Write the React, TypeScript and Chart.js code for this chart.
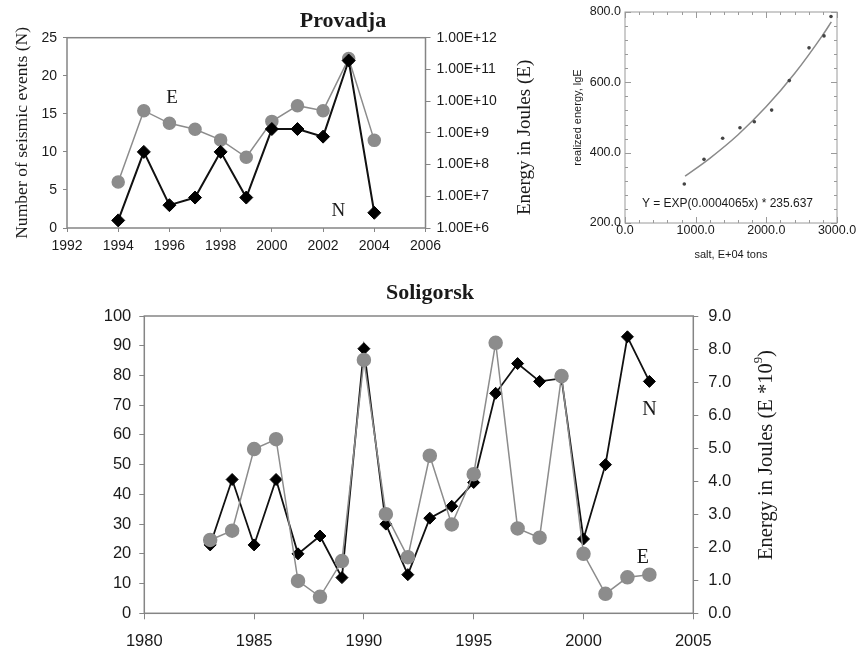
import React, { useEffect, useRef } from "react";
import { Chart, registerables } from "chart.js";

Chart.register(...registerables);

const SERIF = '"Liberation Serif", "Times New Roman", serif';
const SANS = '"Liberation Sans", Arial, sans-serif';
const INK = "#1a1a1a";
const AXIS = "#858585";
const GREY = "#8c8c8c";

// ---------- Provadja ----------
const provYears = [1994, 1995, 1996, 1997, 1998, 1999, 2000, 2001, 2002, 2003, 2004];
const provN = [1, 10, 3, 4, 10, 4, 13, 13, 12, 22, 2];
const provE = [2.8e7, 5.0e9, 2.0e9, 1.3e9, 6.0e8, 1.7e8, 2.3e9, 7.2e9, 5.0e9, 2.2e11, 5.8e8];
const provLogTicks = [1e6, 1e7, 1e8, 1e9, 1e10, 1e11, 1e12];
const provTags = [
  { text: "E", x: 1996.1, y: 17.1 },
  { text: "N", x: 2002.6, y: 2.2 },
];

// ---------- salt vs realized energy ----------
const saltTons = [839, 1118, 1382, 1627, 1830, 2075, 2325, 2604, 2816, 2915];
const saltEnergy = [311, 381, 441, 471, 488, 521, 605, 698, 732, 787];
const fitTons = [850, 1200, 1600, 2000, 2400, 2800, 2920];
const fitEnergy = [333, 384, 451, 531, 625, 735, 772];
const fitEquation = "Y = EXP(0.0004065x) * 235.637";

// ---------- Soligorsk ----------
const soliYears = [
  1983, 1984, 1985, 1986, 1987, 1988, 1989, 1990, 1991, 1992, 1993,
  1994, 1995, 1996, 1997, 1998, 1999, 2000, 2001, 2002, 2003,
];
const soliN = [23, 45, 23, 45, 20, 26, 12, 89, 30, 13, 32, 36, 44, 74, 84, 78, 79, 25, 50, 93, 78];
const soliE = [
  2.22, 2.5, 4.97, 5.27, 0.98, 0.5, 1.58, 7.67, 3.0, 1.7, 4.77,
  2.69, 4.21, 8.19, 2.57, 2.29, 7.18, 1.8, 0.59, 1.09, 1.17,
];
const soliTags = [
  { text: "N", x: 2003.0, y: 68.6 },
  { text: "E", x: 2002.7, y: 18.6 },
];

const xy = (xs: number[], ys: number[]) => xs.map((x, i) => ({ x, y: ys[i] }));

// ---------- plugins ----------
function headingPlugin(text: string, cx: number, baseline: number) {
  return {
    id: "heading",
    afterDraw(chart: any) {
      const ctx = chart.ctx;
      ctx.save();
      ctx.font = `bold 22px ${SERIF}`;
      ctx.fillStyle = INK;
      ctx.textAlign = "center";
      ctx.textBaseline = "alphabetic";
      ctx.fillText(text, cx, baseline);
      ctx.restore();
    },
  };
}

function framePlugin(color: string, width: number) {
  return {
    id: "frame",
    beforeDatasetsDraw(chart: any) {
      const { ctx, chartArea: a } = chart;
      ctx.save();
      ctx.strokeStyle = color;
      ctx.lineWidth = width;
      ctx.strokeRect(a.left, a.top, a.right - a.left, a.bottom - a.top);
      ctx.restore();
    },
  };
}

function tagPlugin(items: { text: string; x: number; y: number }[], font: string) {
  return {
    id: "tags",
    afterDatasetsDraw(chart: any) {
      const ctx = chart.ctx;
      const sx = chart.scales.x;
      const sy = chart.scales.y;
      ctx.save();
      ctx.font = font;
      ctx.fillStyle = INK;
      ctx.textAlign = "center";
      ctx.textBaseline = "middle";
      for (const t of items) ctx.fillText(t.text, sx.getPixelForValue(t.x), sy.getPixelForValue(t.y));
      ctx.restore();
    },
  };
}

function rightTitlePlugin(parts: { text: string; sup?: boolean }[], size: number, dx: number, dy: number) {
  return {
    id: "rightTitle",
    afterDraw(chart: any) {
      const ctx = chart.ctx;
      const s = chart.scales.y2;
      const a = chart.chartArea;
      const cx = s.left + dx;
      const cy = (a.top + a.bottom) / 2 + dy;
      ctx.save();
      ctx.translate(cx, cy);
      ctx.rotate(-Math.PI / 2);
      ctx.fillStyle = INK;
      ctx.textBaseline = "middle";
      ctx.textAlign = "left";
      const fontFor = (p: any) => `${p.sup ? size * 0.62 : size}px ${SERIF}`;
      let total = 0;
      const widths = parts.map((p) => {
        ctx.font = fontFor(p);
        const w = ctx.measureText(p.text).width;
        total += w;
        return w;
      });
      let x = -total / 2;
      parts.forEach((p, i) => {
        ctx.font = fontFor(p);
        ctx.fillText(p.text, x, p.sup ? -size * 0.38 : 0);
        x += widths[i];
      });
      ctx.restore();
    },
  };
}

function innerTicksPlugin() {
  return {
    id: "innerTicks",
    beforeDatasetsDraw(chart: any) {
      const { ctx, chartArea: a } = chart;
      const sx = chart.scales.x;
      const sy = chart.scales.y;
      ctx.save();
      ctx.strokeStyle = "#9a9a9a";
      ctx.lineWidth = 1;
      ctx.strokeRect(a.left, a.top, a.right - a.left, a.bottom - a.top);
      ctx.beginPath();
      for (let v = sx.min; v <= sx.max + 1e-6; v += 200) {
        const p = Math.round(sx.getPixelForValue(v)) + 0.5;
        const len = Math.abs(v % 1000) < 1e-6 ? 6 : 3;
        ctx.moveTo(p, a.bottom);
        ctx.lineTo(p, a.bottom - len);
        ctx.moveTo(p, a.top);
        ctx.lineTo(p, a.top + len);
      }
      for (let v = sy.min; v <= sy.max + 1e-6; v += 40) {
        const p = Math.round(sy.getPixelForValue(v)) + 0.5;
        const len = Math.abs((v - sy.min) % 200) < 1e-6 ? 6 : 3;
        ctx.moveTo(a.left, p);
        ctx.lineTo(a.left + len, p);
        ctx.moveTo(a.right, p);
        ctx.lineTo(a.right - len, p);
      }
      ctx.stroke();
      ctx.restore();
    },
  };
}

const noPlugins = { legend: { display: false }, tooltip: { enabled: false }, title: { display: false } };

// ---------- configs ----------
function provadjaConfig(): any {
  const tickFont = { family: SANS, size: 14 };
  return {
    type: "scatter",
    data: {
      datasets: [
        {
          label: "N",
          data: xy(provYears, provN),
          yAxisID: "y",
          showLine: true,
          borderColor: "#111",
          borderWidth: 2,
          pointStyle: "rectRot",
          pointRadius: 6.5,
          pointBackgroundColor: "#000",
          pointBorderColor: "#000",
          pointBorderWidth: 1,
          order: 0,
        },
        {
          label: "E",
          data: xy(provYears, provE),
          yAxisID: "y2",
          showLine: true,
          borderColor: GREY,
          borderWidth: 1.5,
          pointStyle: "circle",
          pointRadius: 6,
          pointBackgroundColor: GREY,
          pointBorderColor: GREY,
          order: 1,
        },
      ],
    },
    options: {
      animation: false,
      responsive: false,
      layout: { padding: { left: 0, right: 148.5, top: 37.7, bottom: 0 } },
      plugins: noPlugins,
      scales: {
        x: {
          type: "linear",
          min: 1992,
          max: 2006,
          ticks: { stepSize: 2, font: tickFont, color: INK, padding: 5.6, callback: (v: any) => String(v) },
          grid: { drawOnChartArea: false, tickLength: 4, color: AXIS },
          border: { display: false },
          afterFit: (s: any) => { s.height = 34; },
        },
        y: {
          type: "linear",
          position: "left",
          min: 0,
          max: 25,
          ticks: { stepSize: 5, font: tickFont, color: INK, padding: 6 },
          grid: { drawOnChartArea: false, tickLength: 4, color: AXIS },
          border: { display: false },
          title: {
            display: true,
            text: "Number of seismic events (N)",
            font: { family: SERIF, size: 17.6 },
            color: INK,
            padding: { top: 11.8, bottom: 0 },
          },
          afterFit: (s: any) => { s.width = 67; },
        },
        y2: {
          type: "logarithmic",
          position: "right",
          min: 1e6,
          max: 1e12,
          afterBuildTicks: (s: any) => { s.ticks = provLogTicks.map((v) => ({ value: v })); },
          ticks: {
            autoSkip: false,
            font: tickFont,
            color: INK,
            padding: 6,
            callback: (v: any) => Number(v).toExponential(2).toUpperCase(),
          },
          grid: { drawOnChartArea: false, tickLength: 5, color: AXIS },
          border: { display: false },
          afterFit: (s: any) => { s.width = 112; },
        },
      },
    },
    plugins: [
      framePlugin(AXIS, 1.5),
      tagPlugin(provTags, `19px ${SERIF}`),
      headingPlugin("Provadja", 343, 27),
      rightTitlePlugin([{ text: "Energy in Joules (E)" }], 19, 99.5, 4.6),
    ],
  };
}

function saltConfig(): any {
  const tickFont = { family: SANS, size: 12.5 };
  return {
    type: "scatter",
    data: {
      datasets: [
        {
          label: "measured",
          data: xy(saltTons, saltEnergy),
          showLine: false,
          pointStyle: "circle",
          pointRadius: 1.8,
          pointBackgroundColor: "#444",
          pointBorderWidth: 0,
        },
        {
          label: "fit",
          data: xy(fitTons, fitEnergy),
          showLine: true,
          cubicInterpolationMode: "monotone",
          pointRadius: 0,
          borderColor: "#8a8a8a",
          borderWidth: 1.5,
        },
      ],
    },
    options: {
      animation: false,
      responsive: false,
      layout: { padding: { left: 0, right: 21, top: 12, bottom: 0 } },
      plugins: noPlugins,
      scales: {
        x: {
          type: "linear",
          min: 0,
          max: 3000,
          ticks: { stepSize: 1000, font: tickFont, color: INK, padding: 0, callback: (v: any) => Number(v).toFixed(1) },
          grid: { display: false, drawTicks: false },
          border: { display: false },
          title: {
            display: true,
            text: "salt, E+04 tons",
            font: { family: SANS, size: 11 },
            color: INK,
            padding: { top: 0, bottom: 0.7 },
          },
          afterFit: (s: any) => { s.height = 39; },
        },
        y: {
          type: "linear",
          min: 200,
          max: 800,
          ticks: { stepSize: 200, font: tickFont, color: INK, padding: 4, callback: (v: any) => Number(v).toFixed(1) },
          grid: { display: false, drawTicks: false },
          border: { display: false },
          title: {
            display: true,
            text: "realized energy, lgE",
            font: { family: SANS, size: 11 },
            color: INK,
            padding: { top: 11.7, bottom: 0 },
          },
          afterFit: (s: any) => { s.width = 65; },
        },
      },
    },
    plugins: [innerTicksPlugin(), tagPlugin([{ text: fitEquation, x: 1450, y: 256 }], `12px ${SANS}`)],
  };
}

function soligorskConfig(): any {
  const tickFont = { family: SANS, size: 16.5 };
  return {
    type: "scatter",
    data: {
      datasets: [
        {
          label: "E",
          data: xy(soliYears, soliE),
          yAxisID: "y2",
          showLine: true,
          borderColor: GREY,
          borderWidth: 1.5,
          pointStyle: "circle",
          pointRadius: 6.5,
          pointBackgroundColor: GREY,
          pointBorderColor: GREY,
          order: 0,
        },
        {
          label: "N",
          data: xy(soliYears, soliN),
          yAxisID: "y",
          showLine: true,
          borderColor: "#111",
          borderWidth: 1.8,
          pointStyle: "rectRot",
          pointRadius: 6,
          pointBackgroundColor: "#000",
          pointBorderColor: "#000",
          pointBorderWidth: 1,
          order: 1,
        },
      ],
    },
    options: {
      animation: false,
      responsive: false,
      layout: { padding: { left: 0, right: 64.7, top: 46, bottom: 0 } },
      plugins: noPlugins,
      scales: {
        x: {
          type: "linear",
          min: 1980,
          max: 2005,
          ticks: { stepSize: 5, font: tickFont, color: INK, padding: 12, callback: (v: any) => String(v) },
          grid: { drawOnChartArea: false, tickLength: 6, color: AXIS },
          border: { display: false },
          afterFit: (s: any) => { s.height = 39.7; },
        },
        y: {
          type: "linear",
          position: "left",
          min: 0,
          max: 100,
          ticks: { stepSize: 10, font: tickFont, color: INK, padding: 8 },
          grid: { drawOnChartArea: false, tickLength: 5, color: AXIS },
          border: { display: false },
          afterFit: (s: any) => { s.width = 144.3; },
        },
        y2: {
          type: "linear",
          position: "right",
          min: 0,
          max: 9,
          ticks: { stepSize: 1, font: tickFont, color: INK, padding: 10, callback: (v: any) => Number(v).toFixed(1) },
          grid: { drawOnChartArea: false, tickLength: 5, color: AXIS },
          border: { display: false },
          afterFit: (s: any) => { s.width = 100; },
        },
      },
    },
    plugins: [
      framePlugin(AXIS, 1.5),
      tagPlugin(soliTags, `20px ${SERIF}`),
      headingPlugin("Soligorsk", 430, 29),
      rightTitlePlugin(
        [{ text: "Energy in Joules (E *10" }, { text: "9", sup: true }, { text: ")" }],
        20.5,
        73.4,
        -9.6
      ),
    ],
  };
}

function ChartCanvas(props: { make: () => any; left: number; top: number; width: number; height: number }) {
  const ref = useRef<HTMLCanvasElement>(null);
  useEffect(() => {
    const chart = new Chart(ref.current as HTMLCanvasElement, props.make());
    return () => chart.destroy();
  }, []);
  return (
    <canvas
      ref={ref}
      width={props.width}
      height={props.height}
      style={{ position: "absolute", left: props.left, top: props.top, width: props.width, height: props.height }}
    />
  );
}

export default function App() {
  return (
    <div style={{ position: "absolute", left: 0, top: 0, width: 858, height: 653, background: "#fff", overflow: "hidden" }}>
      <ChartCanvas make={provadjaConfig} left={0} top={0} width={686} height={262} />
      <ChartCanvas make={saltConfig} left={560} top={0} width={298} height={262} />
      <ChartCanvas make={soligorskConfig} left={0} top={270} width={858} height={383} />
    </div>
  );
}
